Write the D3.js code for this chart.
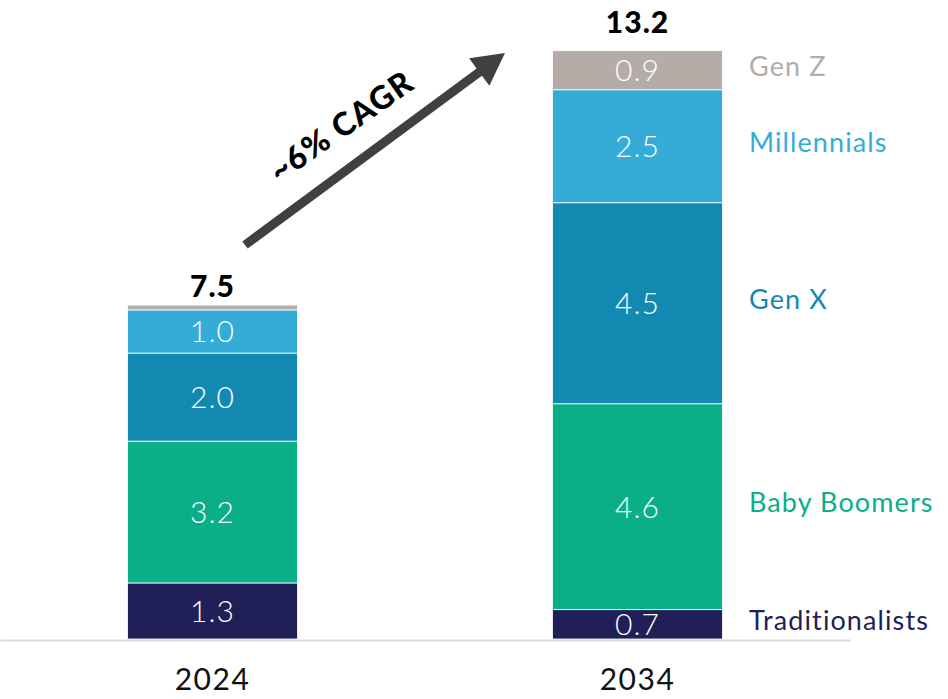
<!DOCTYPE html>
<html>
<head>
<meta charset="utf-8">
<script src="https://cdn.jsdelivr.net/npm/d3@7"></script>
<style>
  html, body { margin: 0; padding: 0; background: #fff; }
  svg { display: block; font-family: Lato, "Open Sans", sans-serif; }
</style>
</head>
<body>
<svg id="chart" width="948" height="699"></svg>
<script>
const years = ["2024", "2034"];
const generations = ["Traditionalists", "Baby Boomers", "Gen X", "Millennials", "Gen Z"];
const traditionalists = [1.26, 0.66];
const babyBoomers = [3.19, 4.63];
const genX = [1.98, 4.52];
const millennials = [0.97, 2.54];
const genZ = [0.11, 0.88];
const totals = [7.5, 13.2];
const growthLabel = "~6% CAGR";
const colors = ["#201f57", "#0aae87", "#1389b2", "#35acd7", "#b5aca7"];

const seriesValues = [traditionalists, babyBoomers, genX, millennials, genZ];
const table = years.map((y, i) => {
  const row = { year: y };
  generations.forEach((g, k) => row[g] = seriesValues[k][i]);
  return row;
});

const svg = d3.select("#chart");
const x = d3.scaleBand().domain(years).range([0, 850]).paddingInner(0.6).paddingOuter(0.3);
const y = d3.scaleLinear().domain([0, d3.max(totals)]).range([639, 52]);
const color = d3.scaleOrdinal().domain(generations).range(colors);

const stacked = d3.stack().keys(generations)(table);

const layers = svg.append("g").selectAll("g").data(stacked).join("g")
  .attr("fill", d => color(d.key));

layers.selectAll("rect").data(d => d).join("rect")
  .attr("x", d => x(d.data.year))
  .attr("width", x.bandwidth())
  .attr("y", d => y(d[1]))
  .attr("height", d => y(d[0]) - y(d[1]))
  .attr("stroke", "#fff")
  .attr("stroke-width", 0.8);

// value labels
layers.selectAll("text").data(d => d.filter(p => p[1] - p[0] >= 0.3)).join("text")
  .attr("x", d => x(d.data.year) + x.bandwidth() / 2)
  .attr("y", d => (y(d[0]) + y(d[1])) / 2)
  .attr("dy", "0.36em")
  .attr("text-anchor", "middle")
  .attr("fill", "#fff")
  .attr("font-size", 30)
  .attr("font-weight", 300)
  .attr("letter-spacing", 1)
  .text(d => d3.format(".1f")(d[1] - d[0]));

// axis
const axis = svg.append("g").attr("transform", "translate(0,640)")
  .call(d3.axisBottom(x).tickSize(0).tickPadding(29));
axis.select(".domain").attr("stroke", "#d9d9d9").attr("stroke-width", 2);
axis.selectAll(".tick text").attr("font-size", 30).attr("font-family", "Lato, sans-serif")
  .attr("font-weight", 400).attr("fill", "#111").attr("letter-spacing", 1.5);

// totals
svg.append("g").selectAll("text").data(years).join("text")
  .attr("x", d => x(d) + x.bandwidth() / 2)
  .attr("y", (d, i) => y(totals[i]) - (i === 0 ? 8 : 19))
  .attr("text-anchor", "middle")
  .attr("font-size", 30)
  .attr("font-weight", 900)
  .attr("fill", "#000")
  .attr("letter-spacing", 1)
  .text((d, i) => d3.format(".1f")(totals[i]));

// legend aligned with 2034 segments
const last = years.length - 1;
svg.append("g").selectAll("text").data(stacked).join("text")
  .attr("x", 749)
  .attr("y", d => (y(d[last][0]) + y(d[last][1])) / 2 - 4)
  .attr("dy", "0.36em")
  .attr("font-size", 27)
  .attr("font-weight", 400)
  .attr("letter-spacing", 1.1)
  .attr("fill", d => color(d.key))
  .text(d => d.key);

// arrow
const x0 = 245, y0 = 245, x1 = 505, y1 = 53;
const ang = Math.atan2(y1 - y0, x1 - x0);
const headLen = 32, headHalf = 17, shaftHalf = 4.5;
const L = Math.hypot(x1 - x0, y1 - y0);
const pts = [
  [0, -shaftHalf], [L - headLen, -shaftHalf], [L - headLen, -headHalf], [L, 0],
  [L - headLen, headHalf], [L - headLen, shaftHalf], [0, shaftHalf]
];
svg.append("path")
  .attr("transform", `translate(${x0},${y0}) rotate(${ang * 180 / Math.PI})`)
  .attr("d", d3.line()(pts) + "Z")
  .attr("fill", "#404040");

svg.append("text")
  .attr("transform", `translate(341,126) rotate(${ang * 180 / Math.PI + 1.5})`)
  .attr("text-anchor", "middle")
  .attr("dy", "0.36em")
  .attr("font-size", 32)
  .attr("font-weight", 900)
  .attr("letter-spacing", 1.2)
  .attr("fill", "#000")
  .text(growthLabel);
</script>
</body>
</html>
